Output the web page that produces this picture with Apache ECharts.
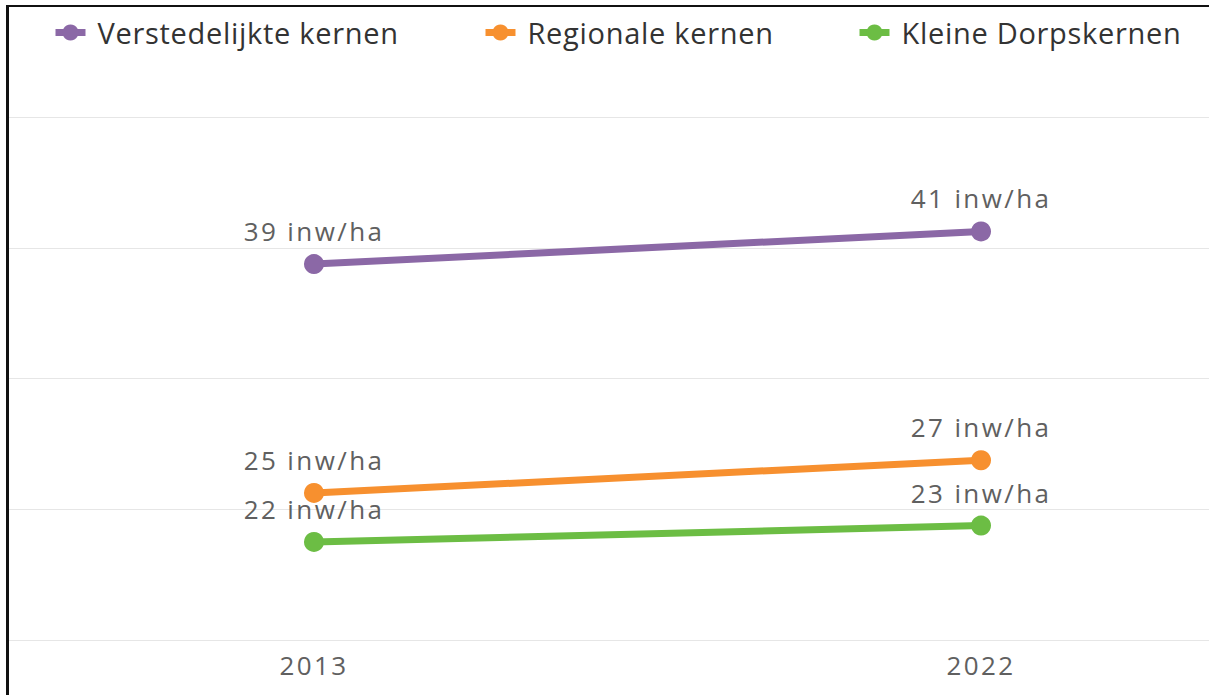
<!DOCTYPE html>
<html>
<head>
<meta charset="utf-8">
<script src="https://cdn.jsdelivr.net/npm/echarts@6/dist/echarts.min.js"></script>
<style>
    html, body { margin: 0; padding: 0; background: #fff; }
    #chart { width: 1209px; height: 695px; }
    #chart text { letter-spacing: 2.4px; }
    #chart text[fill="#333333"] { letter-spacing: 0.7px; }
    #frame {
        position: absolute; left: 6px; top: 5px; width: 1300px; height: 800px;
        border-left: 3px solid #111; border-top: 2px solid #111; pointer-events: none;
    }
</style>
</head>
<body>
<div id="chart"></div>
<div id="frame"></div>
<script>
    // jaren en dichtheid (inw/ha)
    var years = [2013, 2022];
    var seriesNames = ['Verstedelijkte kernen', 'Regionale kernen', 'Kleine Dorpskernen'];
    var verstedelijkt = [39, 41];
    var regionaal = [25, 27];
    var kleineDorpen = [22, 23];
    var colors = ['#8b68a6', '#f7902f', '#6cbd44'];
    var yTicks = [16, 24, 32, 40, 48];
    var legendLeft = [47, 477, 851];

    function pairs(values) {
        return years.map(function (y, i) { return [y, values[i]]; });
    }

    var chart = echarts.init(document.getElementById('chart'), null, { renderer: 'svg' });

    var seriesList = [verstedelijkt, regionaal, kleineDorpen].map(function (vals, i) {
        return {
            name: seriesNames[i],
            type: 'line',
            data: pairs(vals),
            symbol: 'circle',
            symbolSize: 20,
            color: colors[i],
            lineStyle: { width: 7, color: colors[i] },
            itemStyle: { color: colors[i] },
            label: {
                show: true,
                position: 'top',
                distance: 10,
                formatter: function (p) { return p.value[1] + ' inw/ha'; },
                fontFamily: 'Open Sans',
                fontSize: 26,
                color: '#606060'
            }
        };
    });

    var legends = seriesNames.map(function (name, i) {
        return {
            left: legendLeft[i],
            top: 13,
            itemWidth: 30,
            itemHeight: 20,
            lineStyle: { width: 7 },
            textStyle: { fontFamily: 'Open Sans', fontSize: 29, color: '#333333', padding: [0, 0, 0, 7] },
            data: [name]
        };
    });

    chart.setOption({
        animation: false,
        legend: legends,
        grid: { left: 9, right: 0, top: 117, bottom: 55 },
        xAxis: {
            type: 'value',
            min: 2008.885,
            max: 2025.076,
            axisLine: { show: false },
            axisTick: { show: false },
            splitLine: { show: false },
            axisLabel: {
                customValues: years,
                margin: 12,
                fontFamily: 'Open Sans',
                fontSize: 26,
                color: '#606060',
                formatter: function (v) { return String(v); }
            }
        },
        yAxis: {
            type: 'value',
            min: yTicks[0],
            max: yTicks[yTicks.length - 1],
            interval: 8,
            axisLabel: { show: false },
            axisLine: { show: false },
            axisTick: { show: false },
            splitLine: { lineStyle: { color: '#e6e6e6', width: 1 } }
        },
        series: seriesList
    });
</script>
</body>
</html>
